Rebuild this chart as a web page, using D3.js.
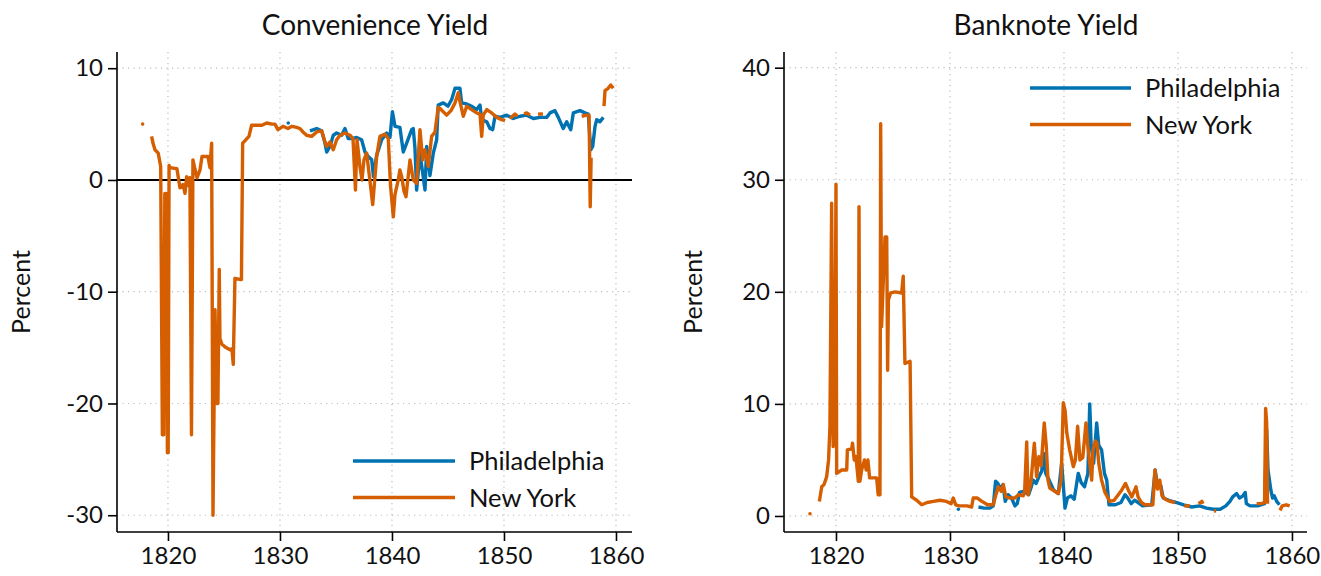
<!DOCTYPE html>
<html>
<head>
<meta charset="utf-8">
<script src="https://cdn.jsdelivr.net/npm/d3@7"></script>
<style>
  html, body { margin: 0; padding: 0; background: #fff; }
  svg { display: block; }
  text { font-family: "Lato", "Open Sans", sans-serif; fill: #111; }
</style>
</head>
<body>
<div id="chart"></div>
<script>
// ---------- DATA ----------
const xTickYears = [1820, 1830, 1840, 1850, 1860];
const cyTickValues = [-30, -20, -10, 0, 10];
const bnTickValues = [0, 10, 20, 30, 40];
const seriesNames = ["Philadelphia", "New York"];

// Convenience yield, Philadelphia [year, percent]; null = gap
const cyPhiladelphia = [
  [1830.74, 5.1], null,
  [1832.68, 4.4], [1833.28, 4.6], [1833.72, 4.4], [1834.02, 3.3], [1834.17, 2.5], [1834.46, 3.0],
  [1834.76, 4.0], [1835.06, 4.2], [1835.51, 4.0], [1835.8, 4.6], [1836.1, 3.7], [1836.4, 3.7],
  [1836.85, 3.8], [1837.29, 3.6], [1837.59, 2.5], [1837.88, 2.1], [1838.19, 1.8], [1838.35, 0.3],
  [1838.63, 2.2], [1839.08, 3.6], [1839.53, 4.2], [1839.82, 3.8], [1840.04, 6.1], [1840.27, 4.8],
  [1840.71, 4.7], [1841.01, 2.5], [1841.31, 3.3], [1841.76, 4.5], [1841.9, 4.6], [1842.05, 2.9],
  [1842.2, -0.9], [1842.5, 2.4], [1842.8, 0.2], [1842.95, -0.9], [1843.1, 3.0], [1843.39, 0.4],
  [1843.69, 2.4], [1843.99, 3.6], [1844.13, 6.7], [1844.58, 6.9], [1845.0, 6.6], [1845.33, 7.2],
  [1845.63, 8.2], [1846.07, 8.2], [1846.22, 6.9], [1846.67, 6.8], [1847.11, 6.6], [1847.56, 6.3],
  [1847.86, 6.7], [1848.01, 5.4], [1848.46, 5.2], [1848.75, 4.6], [1848.99, 4.5], [1849.2, 5.7],
  [1849.64, 5.6], [1850.24, 5.8], [1850.83, 5.5], [1851.43, 5.7], [1852.03, 5.8], [1852.62, 5.5],
  [1853.21, 5.6], [1853.81, 5.6], [1854.11, 6.0], [1854.55, 6.2], [1854.85, 5.6], [1855.29, 4.6],
  [1855.6, 5.2], [1855.96, 4.5], [1856.19, 6.0], [1856.79, 6.2], [1857.23, 6.0], [1857.53, 5.9],
  [1857.74, 2.7], [1857.92, 3.0], [1858.13, 4.8], [1858.28, 5.4], [1858.57, 5.2], [1858.87, 5.6]
];

// Convenience yield, New York
const cyNewYork = [
  [1817.74, 5.0], null,
  [1818.54, 3.9], [1818.66, 3.3], [1818.84, 2.7], [1819.13, 2.4], [1819.35, 1.2], [1819.5, -22.8],
  [1819.62, -22.8], [1819.72, -1.2], [1819.85, -1.2], [1819.95, -24.4], [1820.02, -24.4], [1820.1, 1.3],
  [1820.18, 1.1], [1820.8, 1.0], [1821.07, -0.7], [1821.34, -0.4], [1821.52, -1.2], [1821.67, 0.3],
  [1821.8, -0.5], [1821.96, 0.2], [1822.1, -22.8], [1822.23, 1.8], [1822.4, 1.0], [1822.6, 0.2],
  [1822.86, 0.9], [1823.04, 2.1], [1823.57, 2.1], [1823.75, 1.1], [1823.9, 3.3], [1824.02, -30.0],
  [1824.2, -11.6], [1824.35, -20.0], [1824.46, -20.0], [1824.58, -8.0], [1824.64, -14.2], [1824.82, -14.7],
  [1825.18, -15.0], [1825.54, -15.2], [1825.71, -15.1], [1825.83, -16.5], [1825.98, -8.8], [1826.43, -8.9],
  [1826.56, -8.9], [1826.67, 3.3], [1826.96, 3.6], [1827.23, 3.9], [1827.47, 4.9], [1827.86, 4.9],
  [1828.39, 4.9], [1828.81, 5.1], [1829.29, 5.0], [1829.55, 5.0], [1829.82, 4.5], [1830.27, 4.8],
  [1830.71, 4.6], [1831.07, 4.8], [1831.49, 4.7], [1831.79, 4.6], [1832.05, 4.3], [1832.38, 4.0],
  [1832.83, 3.9], [1833.28, 4.3], [1833.72, 4.4], [1834.02, 3.4], [1834.17, 3.0], [1834.46, 3.4],
  [1834.76, 2.7], [1835.06, 3.6], [1835.36, 4.0], [1835.8, 4.2], [1836.25, 4.0], [1836.52, 3.7],
  [1836.74, -0.9], [1836.88, 3.6], [1837.14, 1.2], [1837.32, 0.0], [1837.5, 1.8], [1837.74, 2.4],
  [1837.99, 0.3], [1838.28, -2.2], [1838.63, 2.1], [1838.93, 3.9], [1839.38, 4.1], [1839.67, 3.7],
  [1839.87, -0.5], [1840.12, -3.3], [1840.27, -1.3], [1840.56, 0.0], [1840.71, 0.9], [1840.89, 0.2],
  [1841.07, -1.0], [1841.25, -1.5], [1841.61, 1.8], [1841.9, 0.0], [1842.2, -0.3], [1842.5, 4.5],
  [1842.74, 1.8], [1842.95, 2.7], [1843.24, 1.2], [1843.54, 3.9], [1843.84, 4.3], [1844.13, 6.5],
  [1844.29, 6.4], [1844.88, 5.8], [1845.27, 6.2], [1845.63, 6.9], [1845.92, 7.8], [1846.07, 7.0],
  [1846.37, 5.7], [1846.67, 6.6], [1847.11, 6.3], [1847.56, 6.0], [1847.86, 5.9], [1848.01, 3.9],
  [1848.15, 5.8], [1848.46, 6.3], [1848.9, 6.0], [1849.35, 5.6], [1849.79, 5.4], [1850.1, 5.3], null,
  [1850.54, 5.5], [1850.98, 5.9], [1851.2, 5.7], null,
  [1851.8, 5.9], [1852.03, 6.0], [1852.32, 5.8], null,
  [1853.04, 5.9], [1853.48, 5.9], null,
  [1856.94, 5.7], [1857.38, 5.8], [1857.6, 5.8], [1857.7, -2.4], [1857.78, 2.0], null,
  [1858.93, 6.6], [1859.02, 8.0], [1859.3, 8.2], [1859.53, 8.5], [1859.76, 8.2]
];

// Banknote yield, Philadelphia
const bnPhiladelphia = [
  [1830.74, 0.6], null,
  [1832.5, 0.8], [1833.0, 0.7], [1833.5, 0.7], [1833.8, 0.9], [1834.0, 3.1], [1834.2, 2.9],
  [1834.45, 2.4], [1834.65, 2.8], [1834.85, 1.3], [1835.1, 1.9], [1835.4, 1.6], [1835.7, 0.9],
  [1835.9, 1.1], [1836.1, 2.1], [1836.43, 2.2], [1836.9, 1.9], [1837.1, 2.5], [1837.3, 3.2],
  [1837.55, 2.9], [1837.8, 3.5], [1838.05, 4.0], [1838.2, 5.6], [1838.4, 3.8], [1838.7, 3.2],
  [1839.1, 2.3], [1839.5, 2.0], [1839.8, 4.7], [1840.09, 0.7], [1840.3, 1.6], [1840.6, 1.8],
  [1840.9, 1.5], [1841.25, 3.8], [1841.5, 3.0], [1841.8, 2.6], [1842.1, 3.8], [1842.26, 10.0],
  [1842.38, 6.5], [1842.6, 4.7], [1842.87, 8.3], [1843.05, 6.3], [1843.3, 5.9], [1843.55, 3.8],
  [1843.75, 3.2], [1843.95, 1.0], [1844.5, 1.0], [1845.0, 1.2], [1845.35, 1.9], [1845.6, 1.6],
  [1845.9, 1.1], [1846.2, 1.4], [1846.5, 1.2], [1846.9, 0.9], [1847.7, 1.0], [1848.0, 4.1],
  [1848.2, 2.8], [1848.5, 2.7], [1848.7, 1.6], [1849.2, 1.4], [1849.9, 1.2], [1850.5, 1.0],
  [1851.2, 0.8], [1851.9, 0.9], [1852.5, 0.7], [1853.1, 0.6], [1853.7, 0.6], [1854.2, 0.9],
  [1854.56, 1.3], [1854.8, 1.7], [1855.15, 2.0], [1855.4, 1.6], [1855.7, 1.8], [1855.9, 2.1],
  [1856.0, 1.1], [1856.32, 0.9], [1857.0, 0.9], [1857.6, 1.1], [1857.78, 7.7], [1857.9, 4.1],
  [1858.15, 2.3], [1858.3, 1.6], [1858.45, 1.8], [1858.66, 1.3], [1858.9, 1.0]
];

// Banknote yield, New York
const bnNewYork = [
  [1817.72, 0.2], null,
  [1818.54, 1.3], [1818.75, 2.6], [1818.95, 2.8], [1819.18, 3.5], [1819.35, 5.0], [1819.47, 8.0],
  [1819.62, 27.9], [1819.75, 6.2], [1819.9, 8.0], [1820.0, 29.6], [1820.06, 3.8], [1820.5, 4.1],
  [1820.94, 4.1], [1821.0, 5.9], [1821.38, 6.0], [1821.45, 6.5], [1821.6, 5.0], [1821.75, 5.3],
  [1821.96, 3.1], [1822.02, 27.6], [1822.1, 3.1], [1822.25, 4.1], [1822.5, 5.0], [1822.65, 4.1],
  [1822.8, 5.0], [1822.95, 3.4], [1823.57, 3.4], [1823.7, 1.9], [1823.86, 1.9], [1823.92, 35.0],
  [1824.0, 16.9], [1824.3, 24.9], [1824.45, 24.9], [1824.53, 13.0], [1824.6, 19.3], [1824.8, 19.9],
  [1825.2, 20.0], [1825.76, 19.9], [1825.9, 21.4], [1826.05, 13.6], [1826.5, 13.8], [1826.64, 1.7],
  [1827.08, 1.4], [1827.52, 1.0], [1828.0, 1.2], [1828.54, 1.3], [1829.12, 1.4], [1829.7, 1.3],
  [1830.1, 1.1], [1830.29, 1.6], [1830.5, 1.0], [1830.8, 0.9], [1831.5, 0.9], [1831.9, 0.8],
  [1832.04, 1.6], [1832.4, 1.6], [1832.8, 1.3], [1833.3, 1.0], [1833.8, 1.0], [1834.0, 1.8],
  [1834.25, 2.6], [1834.5, 2.2], [1834.68, 2.8], [1834.9, 1.7], [1835.26, 1.6], [1835.7, 1.6],
  [1836.0, 1.9], [1836.43, 1.8], [1836.55, 2.2], [1836.73, 6.6], [1836.85, 1.9], [1837.1, 3.0],
  [1837.4, 6.5], [1837.6, 3.5], [1837.8, 5.3], [1838.0, 4.5], [1838.27, 8.3], [1838.45, 6.2],
  [1838.6, 3.2], [1838.75, 2.5], [1839.2, 2.2], [1839.5, 2.0], [1839.75, 3.2], [1839.94, 10.1],
  [1840.1, 9.4], [1840.25, 7.4], [1840.5, 5.9], [1840.82, 4.4], [1841.0, 5.0], [1841.2, 8.0],
  [1841.4, 5.0], [1841.65, 5.2], [1841.93, 8.3], [1842.1, 6.2], [1842.43, 3.2], [1842.55, 5.9],
  [1842.75, 6.7], [1842.9, 6.5], [1843.05, 4.7], [1843.3, 3.2], [1843.6, 2.1], [1844.03, 1.3],
  [1844.4, 1.4], [1844.7, 1.8], [1845.06, 2.3], [1845.4, 2.9], [1845.65, 2.3], [1845.95, 1.7],
  [1846.32, 2.6], [1846.5, 1.7], [1846.8, 1.2], [1847.1, 1.0], [1847.8, 1.0], [1847.98, 4.1],
  [1848.2, 2.4], [1848.4, 3.2], [1848.6, 1.8], [1848.9, 1.5], [1849.3, 1.3], [1849.75, 1.2], null,
  [1850.55, 0.9], [1851.05, 0.9], null,
  [1851.8, 1.1], [1852.1, 1.3], [1852.2, 1.1], null,
  [1853.15, 0.45], [1853.35, 0.45], null,
  [1856.9, 1.1], [1857.3, 1.1], [1857.6, 1.2], [1857.69, 9.6], [1857.78, 8.4], [1857.86, 1.1], null,
  [1858.95, 0.5], [1859.15, 0.9], [1859.5, 1.0], [1859.8, 0.9]
];

// ---------- LAYOUT ----------
const W = 1321, H = 576;
const colors = ["#0072B2", "#D55E00"];
const panels = [
  { title: "Convenience Yield", left: 117, right: 632, top: 52, bottom: 532,
    xDomain: [1815.45, 1861.43], yDomain: [-31.5, 11.45], yTicks: cyTickValues,
    series: [cyPhiladelphia, cyNewYork], zeroLine: true,
    legend: { x1: 353, x2: 455, y: 461, dy: 36.5 }, titleX: 375, ylabX: 30 },
  { title: "Banknote Yield", left: 784, right: 1307, top: 52, bottom: 532,
    xDomain: [1815.44, 1861.32], yDomain: [-1.43, 41.4], yTicks: bnTickValues,
    series: [bnPhiladelphia, bnNewYork], zeroLine: false,
    legend: { x1: 1030, x2: 1131, y: 88, dy: 36.5 }, titleX: 1046, ylabX: 702 }
];

const svg = d3.select("#chart").append("svg").attr("width", W).attr("height", H);

panels.forEach(p => {
  const x = d3.scaleLinear().domain(p.xDomain).range([p.left, p.right]);
  const y = d3.scaleLinear().domain(p.yDomain).range([p.bottom, p.top]);
  const g = svg.append("g");

  // grid
  const grid = g.append("g").attr("stroke", "#bdbdbd").attr("stroke-width", 1.2)
    .attr("stroke-dasharray", "1.2,4.3");
  p.yTicks.forEach(v => {
    if (p.zeroLine && v === 0) return;
    grid.append("line").attr("x1", p.left).attr("x2", p.right)
      .attr("y1", y(v)).attr("y2", y(v));
  });
  xTickYears.forEach(v => {
    grid.append("line").attr("x1", x(v)).attr("x2", x(v))
      .attr("y1", p.top).attr("y2", p.bottom);
  });

  if (p.zeroLine) {
    g.append("line").attr("x1", p.left).attr("x2", p.right)
      .attr("y1", y(0)).attr("y2", y(0)).attr("stroke", "#000").attr("stroke-width", 2);
  }

  // series
  const line = d3.line().x(d => x(d[0])).y(d => y(d[1]));
  p.series.forEach((data, i) => {
    const segs = [];
    let cur = [];
    data.forEach(d => {
      if (d === null) { if (cur.length) segs.push(cur); cur = []; }
      else cur.push(d);
    });
    if (cur.length) segs.push(cur);
    segs.forEach(s => {
      if (s.length === 1) {
        g.append("circle").attr("cx", x(s[0][0])).attr("cy", y(s[0][1]))
          .attr("r", 1.8).attr("fill", colors[i]);
      } else {
        g.append("path").attr("d", line(s)).attr("fill", "none")
          .attr("stroke", colors[i]).attr("stroke-width", 3.4)
          .attr("stroke-linejoin", "round").attr("stroke-linecap", "butt");
      }
    });
  });

  // axes
  const yAxis = d3.axisLeft(y).tickValues(p.yTicks).tickSize(9).tickPadding(5)
    .tickFormat(d => (d < 0 ? "-" + Math.abs(d) : String(d)));
  const ya = g.append("g").attr("transform", `translate(${p.left},0)`).call(yAxis);
  const xAxis = d3.axisBottom(x).tickValues(xTickYears).tickSize(9).tickPadding(6)
    .tickFormat(d3.format("d"));
  const xa = g.append("g").attr("transform", `translate(0,${p.bottom})`).call(xAxis);
  [ya, xa].forEach(a => {
    a.select(".domain").remove();
    a.selectAll(".tick line").attr("stroke", "#000").attr("stroke-width", 1.6);
    a.selectAll(".tick text").attr("font-size", 24).attr("font-family", "Lato").attr("fill", "#111");
  });
  g.append("line").attr("x1", p.left).attr("x2", p.left).attr("y1", p.top).attr("y2", p.bottom)
    .attr("stroke", "#000").attr("stroke-width", 1.6);
  g.append("line").attr("x1", p.left).attr("x2", p.right).attr("y1", p.bottom).attr("y2", p.bottom)
    .attr("stroke", "#000").attr("stroke-width", 1.6);

  // title
  g.append("text").attr("x", p.titleX).attr("y", 35).attr("text-anchor", "middle")
    .attr("font-size", 28).text(p.title);
  // y label
  g.append("text").attr("transform", `translate(${p.ylabX},292) rotate(-90)`)
    .attr("text-anchor", "middle").attr("font-size", 25).text("Percent");

  // legend
  seriesNames.forEach((n, i) => {
    const ly = p.legend.y + i * p.legend.dy;
    g.append("line").attr("x1", p.legend.x1).attr("x2", p.legend.x2)
      .attr("y1", ly).attr("y2", ly).attr("stroke", colors[i]).attr("stroke-width", 3.4);
    g.append("text").attr("x", p.legend.x2 + 14).attr("y", ly + 9)
      .attr("font-size", 25.5).text(n);
  });
});
</script>
</body>
</html>
